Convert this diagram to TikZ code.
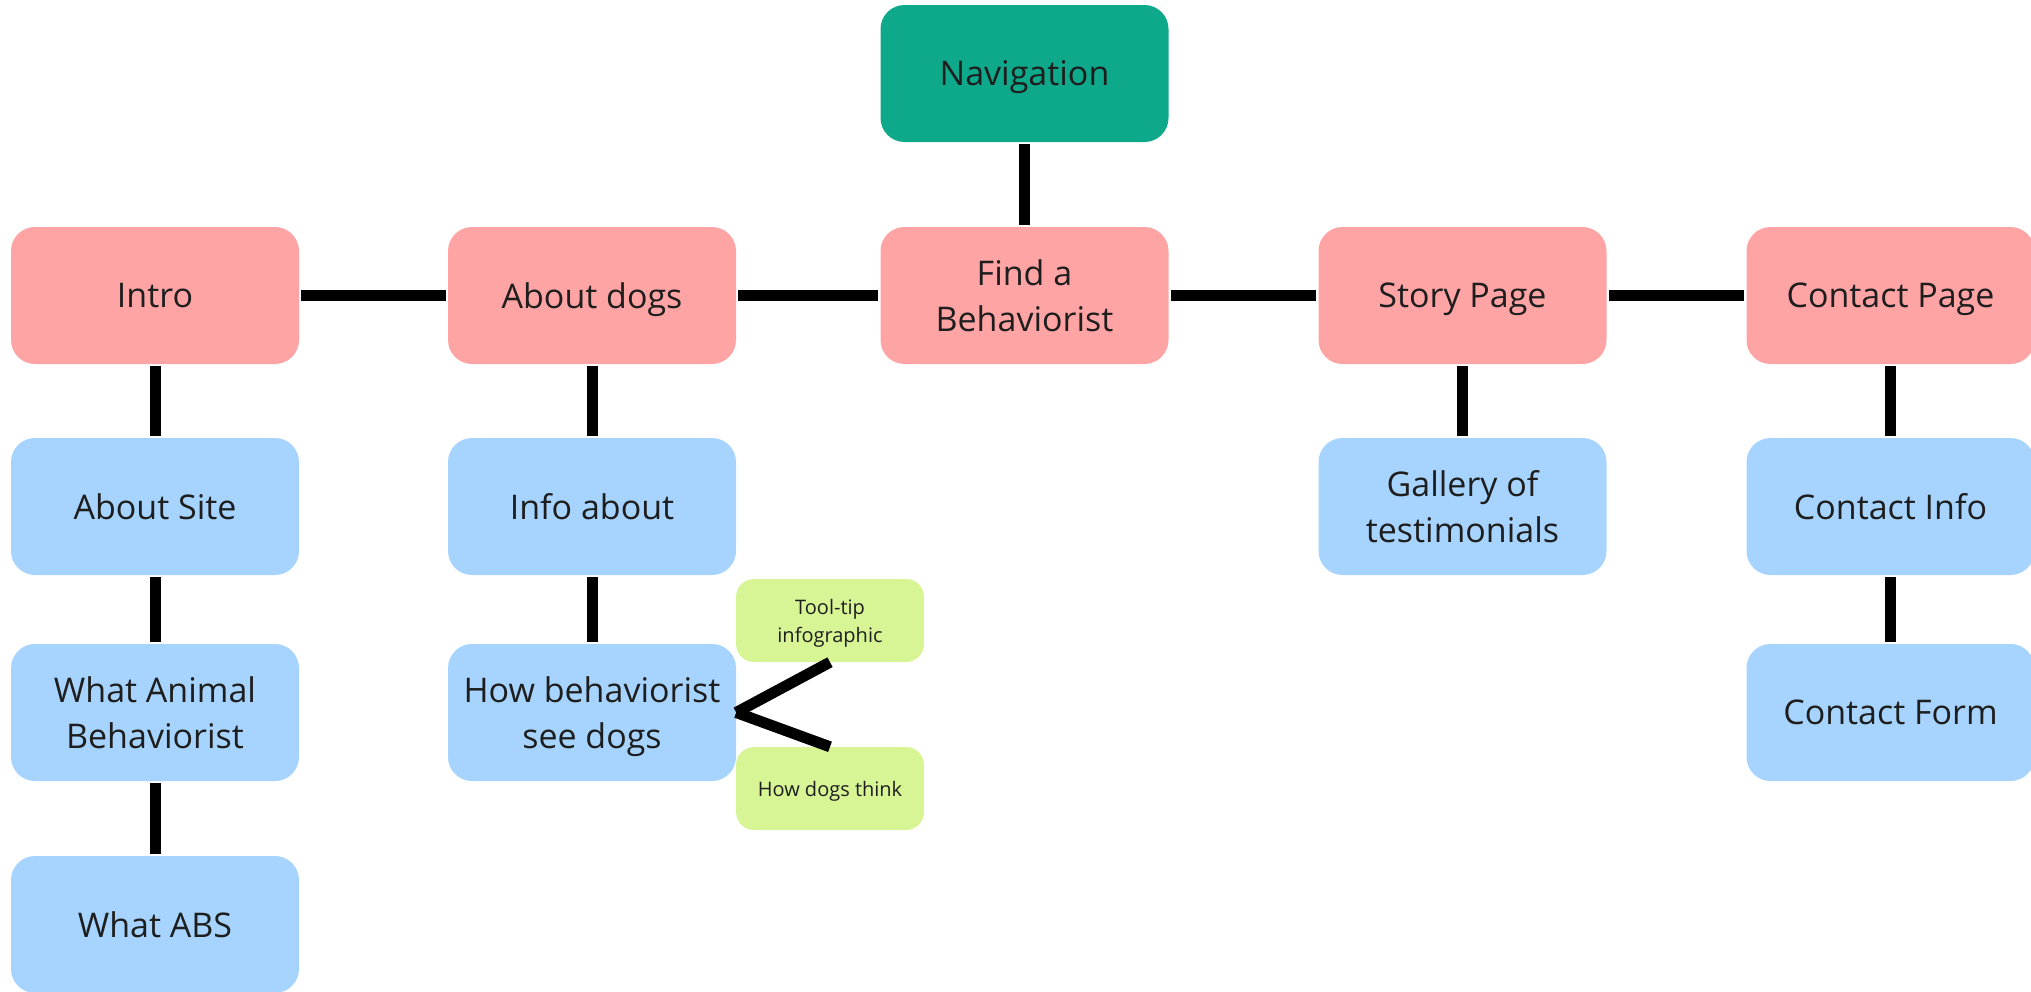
\documentclass[tikz,border=0pt]{standalone}
\usepackage{fontspec}
\setmainfont{Open Sans}
\definecolor{navg}{HTML}{0EA88A}
\definecolor{pinkc}{HTML}{FFA4A4}
\definecolor{bluec}{HTML}{A6D4FE}
\definecolor{greenc}{HTML}{D8F596}
\definecolor{txt}{HTML}{1E1E1E}
\newcommand{\nodesc}[1]{\raisebox{0pt}[\height][0pt]{#1}}
\begin{document}
\begin{tikzpicture}[x=1pt,y=-1pt,
  box/.style={rounded corners=24pt, minimum width=288pt, minimum height=137pt, inner sep=0pt, align=center, text=txt, font=\fontsize{34}{46}\selectfont},
  mainbox/.style={box, fill=pinkc},
  subbox/.style={box, fill=bluec},
  navbox/.style={box, fill=navg},
  tipbox/.style={rounded corners=18pt, minimum width=188pt, minimum height=83pt, inner sep=0pt, align=center, fill=greenc, text=txt, font=\fontsize{20}{28}\selectfont},
  link/.style={line width=11pt, black, shorten <=2pt, shorten >=2pt}]
\useasboundingbox (0,0) rectangle (2031,991);

\node[navbox] (nav) at (1024.5,73.5) {\nodesc{Navigation}};

\node[mainbox] (intro) at (155,295.5) {Intro};
\node[mainbox] (dogs) at (592,295.5) {\nodesc{About dogs}};
\node[mainbox] (find) at (1024.5,295.5) {Find a\\Behaviorist};
\node[mainbox] (story) at (1462.5,295.5) {\nodesc{Story Page}};
\node[mainbox] (contact) at (1890.5,295.5) {\nodesc{Contact Page}};

\node[subbox] (site) at (155,506.5) {About Site};
\node[subbox] (what) at (155,712.5) {What Animal\\Behaviorist};
\node[subbox] (abs) at (155,924.5) {What ABS};

\node[subbox] (info) at (592,506.5) {Info about};
\node[subbox] (how) at (592,712.5) {How behaviorist\\\nodesc{see dogs}};

\node[subbox] (gallery) at (1462.5,506.5) {Gallery of\\testimonials};

\node[subbox] (cinfo) at (1890.5,506.5) {Contact Info};
\node[subbox] (cform) at (1890.5,712.5) {Contact Form};

\node[tipbox] (tooltip) at (830,620.5) {Tool-tip\\\nodesc{infographic}};
\node[tipbox] (think) at (830,788.5) {\nodesc{How dogs think}};

\draw[link] (nav) -- (find);
\draw[link] (intro) -- (dogs);
\draw[link] (dogs) -- (find);
\draw[link] (find) -- (story);
\draw[link] (story) -- (contact);
\draw[link] (intro) -- (site);
\draw[link] (site) -- (what);
\draw[link] (what) -- (abs);
\draw[link] (dogs) -- (info);
\draw[link] (info) -- (how);
\draw[link] (story) -- (gallery);
\draw[link] (contact) -- (cinfo);
\draw[link] (cinfo) -- (cform);
\draw[line width=11pt, black] (how.east) -- (tooltip.south);
\draw[line width=11pt, black] (how.east) -- (think.north);
\end{tikzpicture}
\end{document}
